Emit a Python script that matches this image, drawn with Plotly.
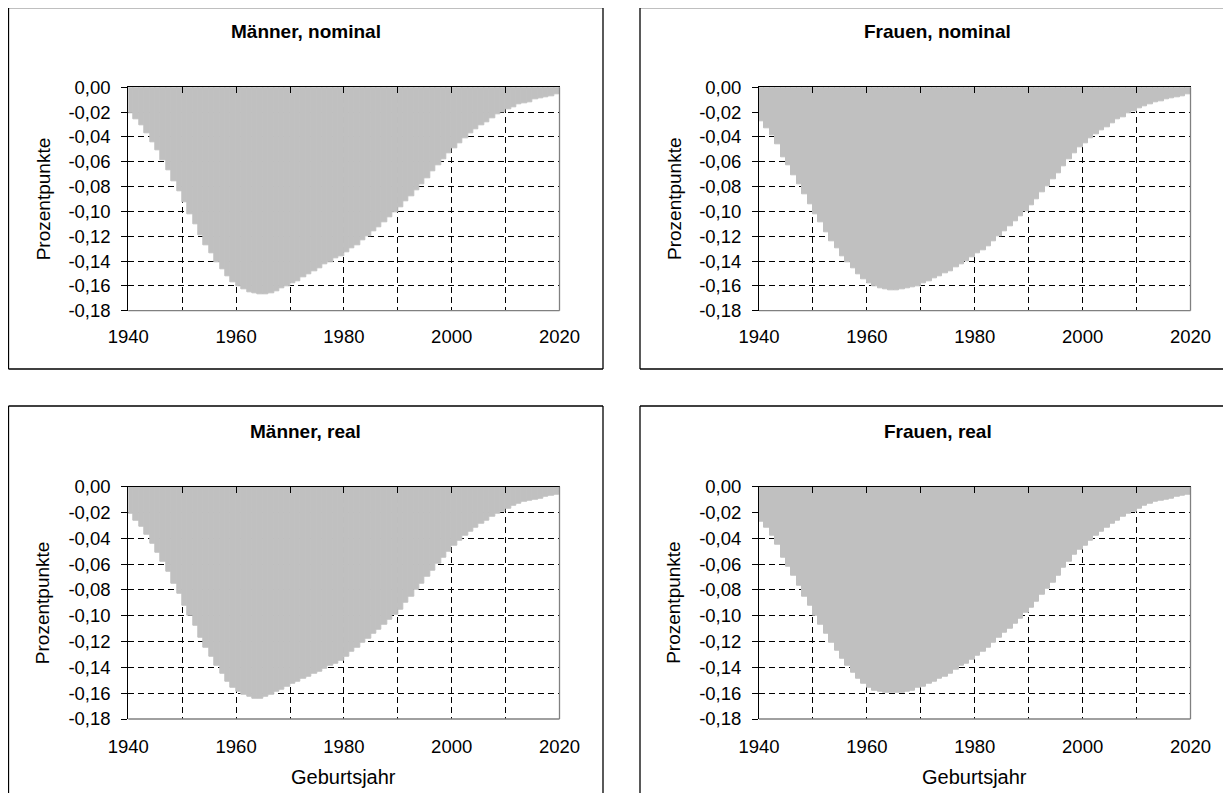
import plotly.graph_objects as go

# the page body adds an 8 px margin: keep the figure inside the 1231x804 window
OFF = 8
W, H = 1231 - 2 * OFF, 804 - 2 * OFF - 3

years = list(range(1940, 2021))

maenner_nominal = [
    -0.021, -0.026, -0.031, -0.037, -0.044, -0.051, -0.059, -0.067, -0.076, -0.084,
    -0.093, -0.102, -0.110, -0.119, -0.127, -0.134, -0.141, -0.147, -0.152, -0.157,
    -0.160, -0.163, -0.165, -0.166, -0.1665, -0.1665, -0.166, -0.164, -0.162, -0.160,
    -0.158, -0.156, -0.153, -0.151, -0.148, -0.146, -0.143, -0.141, -0.138, -0.136,
    -0.133, -0.130, -0.127, -0.123, -0.120, -0.116, -0.113, -0.109, -0.105, -0.101,
    -0.097, -0.092, -0.088, -0.083, -0.078, -0.073, -0.068, -0.063, -0.058, -0.053,
    -0.049, -0.045, -0.041, -0.037, -0.034, -0.031, -0.028, -0.025, -0.022, -0.020,
    -0.018, -0.016, -0.014, -0.013, -0.012, -0.010, -0.009, -0.008, -0.007, -0.006,
    -0.005,
]

frauen_nominal = [
    -0.027, -0.033, -0.039, -0.046, -0.056, -0.063, -0.071, -0.078, -0.086, -0.094,
    -0.102, -0.109, -0.117, -0.124, -0.130, -0.136, -0.141, -0.146, -0.151, -0.155,
    -0.158, -0.160, -0.162, -0.163, -0.1635, -0.1635, -0.163, -0.162, -0.161, -0.160,
    -0.158, -0.156, -0.154, -0.152, -0.150, -0.148, -0.145, -0.143, -0.140, -0.137,
    -0.134, -0.131, -0.128, -0.124, -0.120, -0.116, -0.112, -0.108, -0.104, -0.100,
    -0.095, -0.090, -0.085, -0.080, -0.074, -0.069, -0.064, -0.058, -0.053, -0.048,
    -0.045, -0.041, -0.038, -0.035, -0.032, -0.029, -0.026, -0.024, -0.021, -0.019,
    -0.017, -0.015, -0.014, -0.012, -0.011, -0.010, -0.009, -0.008, -0.007, -0.006,
    -0.005,
]

maenner_real = [
    -0.021, -0.026, -0.031, -0.037, -0.044, -0.051, -0.058, -0.066, -0.075, -0.083,
    -0.092, -0.100, -0.108, -0.117, -0.125, -0.132, -0.139, -0.145, -0.151, -0.156,
    -0.159, -0.161, -0.163, -0.164, -0.164, -0.163, -0.161, -0.159, -0.157, -0.155,
    -0.153, -0.151, -0.149, -0.147, -0.145, -0.143, -0.141, -0.139, -0.137, -0.135,
    -0.132, -0.128, -0.125, -0.121, -0.118, -0.114, -0.111, -0.107, -0.103, -0.099,
    -0.095, -0.090, -0.085, -0.080, -0.075, -0.070, -0.065, -0.060, -0.055, -0.050,
    -0.046, -0.042, -0.038, -0.035, -0.032, -0.029, -0.026, -0.023, -0.021, -0.019,
    -0.017, -0.015, -0.013, -0.012, -0.011, -0.010, -0.009, -0.008, -0.007, -0.006,
    -0.005,
]

frauen_real = [
    -0.027, -0.032, -0.038, -0.045, -0.055, -0.062, -0.069, -0.077, -0.085, -0.092,
    -0.100, -0.107, -0.114, -0.121, -0.127, -0.133, -0.139, -0.144, -0.149, -0.153,
    -0.156, -0.158, -0.159, -0.160, -0.160, -0.160, -0.160, -0.159, -0.158, -0.156,
    -0.155, -0.153, -0.151, -0.149, -0.147, -0.145, -0.142, -0.139, -0.137, -0.134,
    -0.131, -0.128, -0.125, -0.121, -0.117, -0.113, -0.110, -0.106, -0.102, -0.098,
    -0.094, -0.089, -0.084, -0.079, -0.074, -0.069, -0.063, -0.058, -0.053, -0.049,
    -0.046, -0.042, -0.038, -0.035, -0.032, -0.029, -0.026, -0.023, -0.021, -0.019,
    -0.017, -0.015, -0.013, -0.012, -0.011, -0.010, -0.009, -0.008, -0.007, -0.006,
    -0.005,
]

titles = ["Männer, nominal", "Frauen, nominal", "Männer, real", "Frauen, real"]
y_title = "Prozentpunkte"
x_title = "Geburtsjahr"

y_tickvals = [0.0, -0.02, -0.04, -0.06, -0.08, -0.10, -0.12, -0.14, -0.16, -0.18]
y_ticktext = ["0,00", "-0,02", "-0,04", "-0,06", "-0,08", "-0,10", "-0,12", "-0,14", "-0,16", "-0,18"]
x_tickvals = [1940, 1950, 1960, 1970, 1980, 1990, 2000, 2010, 2020]
x_ticktext = ["1940", "", "1960", "", "1980", "", "2000", "", "2020"]

series = [maenner_nominal, frauen_nominal, maenner_real, frauen_real]


# window pixel -> paper fraction
def fx(p):
    return (p - OFF) / W


def fy(p):
    return 1 - (p - OFF) / H


# window-pixel layout: plot rectangles (left, top, right, bottom) and panel frames
plots = [
    (128.3, 87.3, 559.5, 310.7),
    (759.0, 87.3, 1190.5, 310.7),
    (128.3, 486.7, 559.5, 719.0),
    (759.0, 486.7, 1190.5, 719.0),
]
boxes = [
    (8.5, 7.5, 603.0, 369.0),
    (640.0, 7.5, 1245.0, 369.0),
    (8.5, 406.0, 603.0, 830.0),
    (640.0, 406.0, 1245.0, 830.0),
]
# which frame sides fall inside the window: left, top, right, bottom
box_sides = [
    (True, True, True, True),
    (True, True, False, True),
    (True, True, True, False),
    (True, True, False, False),
]
title_x = [305.7, 937.5, 305.7, 937.5]
title_y = [31, 31, 431, 431]
label_standoff = [13, 13, 14, 14]

FONT = "Liberation Sans, Arial, sans-serif"
GRID_DASH = "6px,4px"
TICK_SIZE = 18.5

fig = go.Figure()
shapes = []
annotations = []
layout = {}

# full-figure background axes in window-pixel coordinates for frames and texts
layout["xaxis9"] = dict(domain=[0, 1], range=[OFF, OFF + W], anchor="y9", visible=False,
                        fixedrange=True, automargin=False)
layout["yaxis9"] = dict(domain=[0, 1], range=[OFF + H, OFF], anchor="x9", visible=False,
                        fixedrange=True, automargin=False)
fig.add_trace(go.Scatter(x=[OFF], y=[OFF], mode="markers", marker=dict(size=1, opacity=0),
                         xaxis="x9", yaxis="y9", showlegend=False, hoverinfo="skip"))

FRAME = dict(color="#000000", width=1.3)

for i in range(4):
    n = i + 1
    xs = "" if n == 1 else str(n)
    xname = "x" + xs
    yname = "y" + xs
    left, top, right, bottom = plots[i]

    fig.add_trace(go.Bar(
        x=[yr + 0.5 for yr in years],
        y=series[i],
        width=1.0,
        marker=dict(color="#C0C0C0", line=dict(color="#C0C0C0", width=1)),
        xaxis=xname, yaxis=yname,
        showlegend=False, hoverinfo="x+y",
    ))

    layout["xaxis" + xs] = dict(
        domain=[fx(left), fx(right)], anchor=yname,
        range=[1940, 2020], tickmode="array",
        tickvals=x_tickvals, ticktext=x_ticktext,
        ticks="", showline=False, zeroline=False,
        showgrid=True, gridcolor="#000000", gridwidth=1, griddash=GRID_DASH,
        ticklabelstandoff=label_standoff[i],
        tickfont=dict(size=TICK_SIZE, color="#000000", family=FONT),
        fixedrange=True, automargin=False,
    )
    layout["yaxis" + xs] = dict(
        domain=[fy(bottom), fy(top)], anchor=xname,
        range=[-0.18, 0.0], tickmode="array",
        tickvals=y_tickvals, ticktext=y_ticktext,
        ticks="outside", ticklen=6, tickcolor="#000000", tickwidth=1,
        showline=True, linecolor="#000000", linewidth=1,
        zeroline=False,
        showgrid=True, gridcolor="#000000", gridwidth=1, griddash=GRID_DASH,
        ticklabelstandoff=7,
        tickfont=dict(size=TICK_SIZE, color="#000000", family=FONT),
        fixedrange=True, automargin=False,
    )

    # overlay axis: the category axis crossing at 0 (top), carrying tick marks
    on = n + 4
    oname = "x" + str(on)
    layout["xaxis" + str(on)] = dict(
        overlaying=xname, anchor=yname, side="top",
        range=[1940, 2020], tickmode="array", tickvals=x_tickvals,
        ticks="inside", ticklen=6, tickcolor="#000000", tickwidth=1,
        showticklabels=False, showline=True, linecolor="#000000", linewidth=1,
        showgrid=False, zeroline=False, fixedrange=True, automargin=False,
    )
    fig.add_trace(go.Scatter(x=[1940], y=[0.0], mode="markers",
                             marker=dict(size=1, opacity=0),
                             xaxis=oname, yaxis=yname,
                             showlegend=False, hoverinfo="skip"))

    # plot-area border (grey) on right and bottom
    shapes.append(dict(type="line", xref=xname + " domain", yref=yname + " domain",
                       x0=1, x1=1, y0=0, y1=1, line=dict(color="#808080", width=1.3),
                       layer="above"))
    shapes.append(dict(type="line", xref=xname + " domain", yref=yname + " domain",
                       x0=0, x1=1, y0=0, y1=0, line=dict(color="#808080", width=1.3),
                       layer="above"))

    # panel frame (only the sides that lie inside the window)
    bl, bt, br, bb = boxes[i]
    s_left, s_top, s_right, s_bottom = box_sides[i]
    segs = []
    if s_left:
        segs.append((bl, bt, bl, bb))
    if s_top:
        segs.append((bl, bt, br, bt))
    if s_right:
        segs.append((br, bt, br, bb))
    if s_bottom:
        segs.append((bl, bb, br, bb))
    for (a0, b0, a1, b1) in segs:
        shapes.append(dict(type="line", xref="x9", yref="y9",
                           x0=a0, y0=b0, x1=a1, y1=b1, line=FRAME, layer="above"))

    # panel title
    annotations.append(dict(text="<b>" + titles[i] + "</b>", xref="x9", yref="y9",
                            x=title_x[i], y=title_y[i],
                            xanchor="center", yanchor="middle", showarrow=False,
                            font=dict(size=19, color="#000000", family=FONT)))
    # y axis title
    annotations.append(dict(text=y_title, xref="x9", yref="y9",
                            x=left - 85, y=(top + bottom) / 2,
                            xanchor="center", yanchor="middle", textangle=-90,
                            showarrow=False,
                            font=dict(size=19, color="#000000", family=FONT)))
    # x axis title on bottom panels
    if n >= 3:
        annotations.append(dict(text=x_title, xref="x9", yref="y9",
                                x=(left + right) / 2, y=777,
                                xanchor="center", yanchor="middle", showarrow=False,
                                font=dict(size=20, color="#000000", family=FONT)))

fig.update_layout(
    width=W, height=H, autosize=False,
    margin=dict(l=0, r=0, t=0, b=0, pad=0, autoexpand=False),
    paper_bgcolor="#FFFFFF", plot_bgcolor="rgba(0,0,0,0)",
    bargap=0, barmode="overlay",
    font=dict(family=FONT, size=18, color="#000000"),
    separators=",.",
    showlegend=False,
    shapes=shapes, annotations=annotations,
    **layout,
)

fig.write_html("out.html")
